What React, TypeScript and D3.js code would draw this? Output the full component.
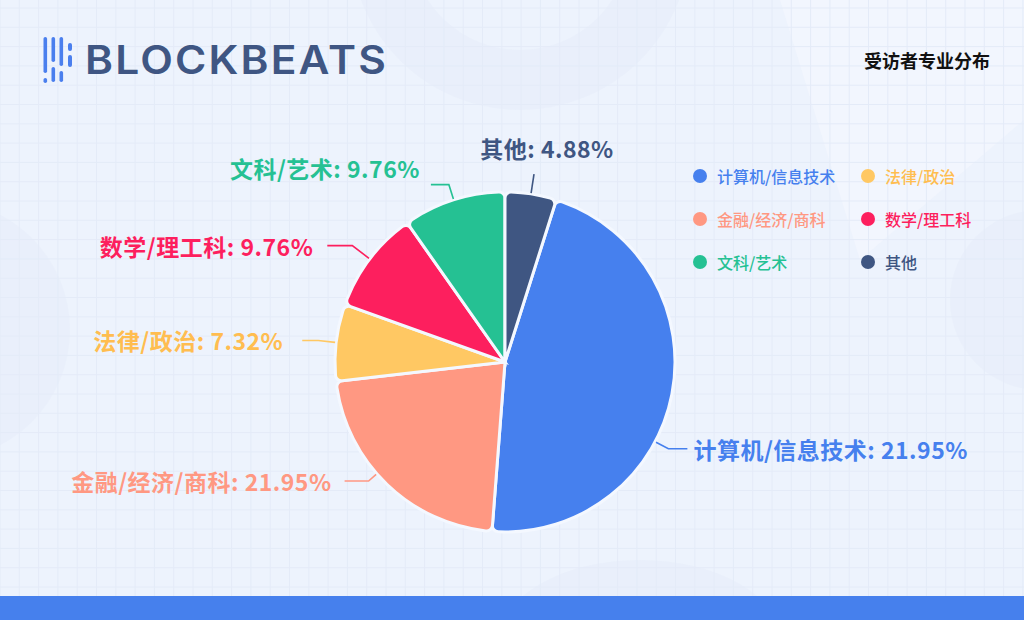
import * as d3 from 'd3';

// survey: respondents' field of study (counts out of 41)
const categories = ['计算机/信息技术', '金融/经济/商科', '法律/政治', '数学/理工科', '文科/艺术', '其他'];
const counts = [19, 9, 3, 4, 4, 2];
// percentages exactly as printed on the original labels
const labelPercents = ['21.95%', '21.95%', '7.32%', '9.76%', '9.76%', '4.88%'];
const legendOrder = ['计算机/信息技术', '法律/政治', '金融/经济/商科', '数学/理工科', '文科/艺术', '其他'];

const colors = ['#4680ee', '#ff9882', '#ffc863', '#fd1f5e', '#25c193', '#3f5682'];
const textColors = ['#4680ee', '#ff9882', '#ffbd50', '#fd1f5e', '#25c193', '#3f5682'];

// leader line tweaks (degrees shift, segment lengths, text gap, text y offset)
const labelLayout = [
  { shift: 17, l1: 15, l2: 19, gap: 6, dy: 0, top: false },
  { shift: 5, l1: 11, l2: 24, gap: 13, dy: 0, top: false },
  { shift: 0, l1: 18, l2: 16, gap: 19, dy: 0, top: false },
  { shift: 0, l1: 22, l2: 25, gap: 14, dy: 0, top: false },
  { shift: 0, l1: 16, l2: 18, gap: 11, dy: -17, top: false },
  { shift: 0, l1: 20, l2: 0, gap: 0, dy: 0, top: true },
];

const W = 1024;
const H = 620;
const cx = 505;
const cy = 362;
const R = 170;

const App = () => {
  const color = d3.scaleOrdinal<string, string>().domain(categories).range(colors);
  const tcolor = d3.scaleOrdinal<string, string>().domain(categories).range(textColors);

  const start = (2 * Math.PI * counts[counts.length - 1]) / d3.sum(counts);
  const pie = d3
    .pie<number>()
    .sort(null)
    .value((d) => d)
    .startAngle(start)
    .endAngle(start + 2 * Math.PI);
  const arcs = pie(counts);
  const arc = d3.arc<any>().innerRadius(0).outerRadius(R).cornerRadius(6);

  const pt = (r: number, a: number) => [cx + r * Math.sin(a), cy - r * Math.cos(a)];

  const gridStep = 19.3;
  const vLines = d3.range(0, W, gridStep);
  const hLines = d3.range(8, H, gridStep);

  const labelFont = '"Noto Sans CJK SC", "Noto Sans", sans-serif';

  return (
    <svg width={W} height={H} style={{ position: 'absolute', left: 0, top: 0 }}>
      <rect width={W} height={H} fill="#edf3fd" />
      {/* faint background shapes */}
      <g fill="#e4ecf9" opacity={0.45}>
        <circle cx={-60} cy={330} r={130} />
        <circle cx={520} cy={-60} r={140} fill="none" stroke="#e4ecf9" strokeWidth={60} />
        <ellipse cx={640} cy={640} rx={140} ry={80} />
        <circle cx={1040} cy={300} r={90} />
      </g>
      <polygon points="780,0 1024,0 1024,120 860,260" fill="#f3f7fe" opacity={0.7} />
      <g stroke="#e4ebf8" strokeWidth={1}>
        {vLines.map((x) => (
          <line key={'v' + x} x1={x} x2={x} y1={0} y2={H} />
        ))}
        {hLines.map((y) => (
          <line key={'h' + y} x1={0} x2={W} y1={y} y2={y} />
        ))}
      </g>

      {/* logo */}
      <g fill="#4a7fee">
        <rect x={43.5} y={37} width={3.6} height={36} rx={1.8} />
        <rect x={43.5} y={78} width={3.6} height={5} rx={1.8} />
        <rect x={51.5} y={37} width={3.6} height={25} rx={1.8} />
        <rect x={51.5} y={67} width={3.6} height={15} rx={1.8} />
        <rect x={59.5} y={37} width={3.6} height={29} rx={1.8} />
        <rect x={59.5} y={71} width={3.6} height={11} rx={1.8} />
        <rect x={68} y={43} width={4} height={8} rx={2} />
        <rect x={68} y={55} width={4} height={12} rx={2} />
      </g>
      <text
        x={85}
        y={74}
        fontFamily="Inter, 'Open Sans', sans-serif"
        fontWeight={600}
        fontSize={39}
        fill="#3f5683"
        textLength={303}
        lengthAdjust="spacingAndGlyphs"
        letterSpacing={2}
      >
        BLOCKBEATS
      </text>

      <text
        x={990}
        y={60}
        textAnchor="end"
        dominantBaseline="central"
        fontFamily={labelFont}
        fontWeight={700}
        fontSize={18}
        fill="#111"
      >
        受访者专业分布
      </text>

      {/* pie */}
      <g transform={`translate(${cx},${cy})`}>
        {arcs.map((a, i) => (
          <path key={i} d={arc(a) as string} fill={color(categories[i])} stroke="#f4f8ff" strokeWidth={3} />
        ))}
      </g>

      {/* labels */}
      {arcs.map((a, i) => {
        const lay = labelLayout[i];
        const ang = (a.startAngle + a.endAngle) / 2 + (lay.shift * Math.PI) / 180;
        const p0 = pt(R + 1, ang);
        const p1 = pt(R + lay.l1, ang);
        const right = Math.sin(ang) > 0;
        const c = tcolor(categories[i]);
        const txt = `${categories[i]}: ${labelPercents[i]}`;
        if (lay.top) {
          return (
            <g key={i}>
              <polyline points={`${p0} ${p1}`} fill="none" stroke={color(categories[i])} strokeWidth={1.6} />
              <text
                x={p1[0] + 13}
                y={p1[1] - 26}
                textAnchor="middle"
                dominantBaseline="central"
                fontFamily={labelFont}
                fontWeight={700}
                fontSize={23}
                letterSpacing={0.5}
                fill={c}
              >
                {txt}
              </text>
            </g>
          );
        }
        const p2 = [p1[0] + (right ? lay.l2 : -lay.l2), p1[1]];
        return (
          <g key={i}>
            <polyline points={`${p0} ${p1} ${p2}`} fill="none" stroke={color(categories[i])} strokeWidth={1.6} />
            <text
              x={p2[0] + (right ? lay.gap : -lay.gap)}
              y={p2[1] + lay.dy}
              textAnchor={right ? 'start' : 'end'}
              dominantBaseline="central"
              fontFamily={labelFont}
              fontWeight={700}
              fontSize={23}
              letterSpacing={0.5}
              fill={c}
            >
              {txt}
            </text>
          </g>
        );
      })}

      {/* legend, two columns */}
      {legendOrder.map((name, k) => {
        const col = k % 2;
        const row = Math.floor(k / 2);
        const x = 700 + col * 168;
        const y = 176 + row * 43;
        return (
          <g key={name}>
            <circle cx={x} cy={y} r={7} fill={color(name)} />
            <text
              x={x + 17}
              y={y}
              dominantBaseline="central"
              fontFamily={labelFont}
              fontWeight={500}
              fontSize={16}
              fill={tcolor(name)}
            >
              {name}
            </text>
          </g>
        );
      })}

      <rect x={0} y={596} width={W} height={H - 596} fill="#4680ed" />
    </svg>
  );
};

export default App;
